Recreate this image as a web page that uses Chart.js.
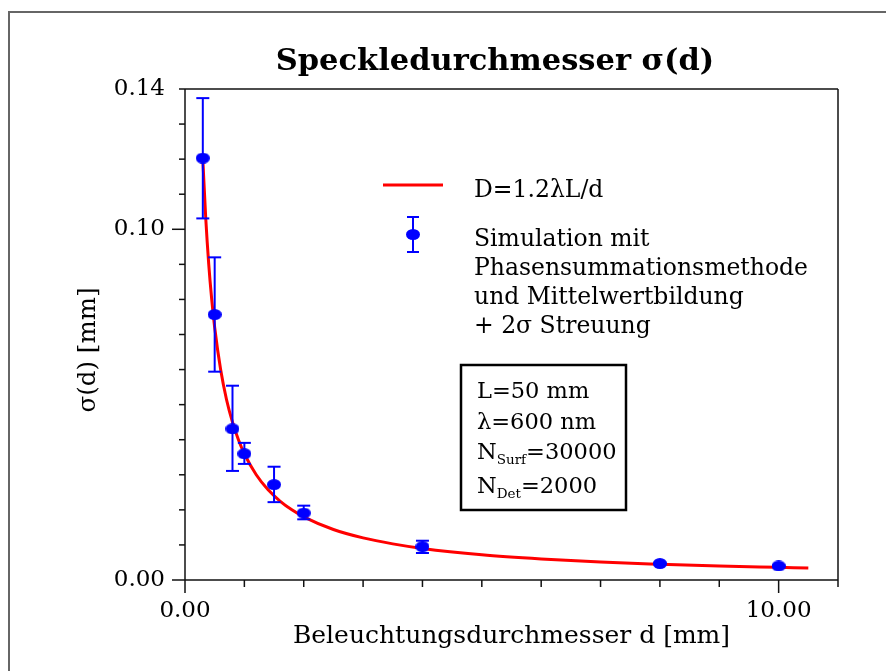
<!DOCTYPE html>
<html>
<head>
<meta charset="utf-8">
<title>Speckledurchmesser</title>
<script src="https://cdn.jsdelivr.net/npm/chart.js@4.4.1/dist/chart.umd.min.js"></script>
<style>
  html, body { margin: 0; padding: 0; background: #fff; }
  #wrap { width: 886px; height: 671px; }
</style>
</head>
<body>
<div id="wrap"><canvas id="chart" width="886" height="671"></canvas></div>
<script>
// simulated speckle diameter (mean and 2-sigma spread) per illumination diameter
const diameters  = [0.3, 0.5, 0.8, 1.0, 1.5, 2.0, 4.0, 8.0, 10.0];
const speckleMean = [0.1203, 0.0757, 0.0431, 0.0360, 0.0272, 0.0191, 0.0095, 0.0047, 0.0040];
const speckleLow  = [0.1031, 0.0594, 0.0311, 0.0331, 0.0222, 0.0173, 0.0077, 0.0045, 0.0038];
const speckleHigh = [0.1374, 0.0920, 0.0554, 0.0391, 0.0323, 0.0212, 0.0112, 0.0049, 0.0042];

// theory curve D = 1.2 lambda L / d
const curveD     = [0.3, 0.35, 0.4, 0.45, 0.5, 0.6, 0.7, 0.8, 0.9, 1.0, 1.2, 1.4, 1.6, 1.8, 2.0, 2.5, 3.0, 3.5, 4.0, 5.0, 6.0, 7.0, 8.0, 9.0, 10.0, 10.5];
const curveSigma = [0.120, 0.103, 0.090, 0.080, 0.072, 0.060, 0.0514, 0.045, 0.040, 0.036, 0.030, 0.0257, 0.0225, 0.020, 0.018, 0.0144, 0.012, 0.0103, 0.009, 0.0072, 0.006, 0.0051, 0.0045, 0.004, 0.0036, 0.0034];

// axis ticks
const xTicks = [0, 1, 2, 3, 4, 5, 6, 7, 8, 9, 10];
const xLabeled = [0, 10];
const yTicks = [0, 0.01, 0.02, 0.03, 0.04, 0.05, 0.06, 0.07, 0.08, 0.09, 0.10, 0.11, 0.12, 0.13, 0.14];
const yLabeled = [0, 0.10, 0.14];
const yLong = [0, 0.10];

// legend / parameter text
const legendCurve = "D=1.2\u03bbL/d";
const legendSim = ["Simulation mit", "Phasensummationsmethode", "und Mittelwertbildung", "+ 2\u03c3 Streuung"];
const paramLines = [["L=50 mm"], ["\u03bb=600 nm"], ["N", "Surf", "=30000"], ["N", "Det", "=2000"]];

const SERIF = "'DejaVu Serif', serif";
const BLUE = "#0000ff";
const RED = "#ff0000";

function hasValue(list, v) {
  return list.some(u => Math.abs(u - v) < 1e-9);
}

// slightly flattened dot used for the simulation points
function ellipseDot(w, h, color) {
  const c = document.createElement("canvas");
  c.width = w; c.height = h;
  const g = c.getContext("2d");
  g.fillStyle = color;
  g.beginPath();
  g.ellipse(w / 2, h / 2, w / 2, h / 2, 0, 0, Math.PI * 2);
  g.fill();
  return c;
}
const dot = ellipseDot(14, 11, BLUE);

function line(ctx, x1, y1, x2, y2) {
  ctx.beginPath();
  ctx.moveTo(x1, y1);
  ctx.lineTo(x2, y2);
  ctx.stroke();
}

// outer frame, plot box and tick marks
const frame = {
  id: "frame",
  beforeDatasetsDraw(chart) {
    const { ctx, chartArea: a, scales: { x, y } } = chart;
    ctx.save();
    ctx.strokeStyle = "#666";
    ctx.lineWidth = 2;
    ctx.beginPath();
    ctx.moveTo(9, 671);
    ctx.lineTo(9, 12);
    ctx.lineTo(886, 12);
    ctx.stroke();

    ctx.strokeStyle = "#111";
    ctx.lineWidth = 1.5;
    line(ctx, a.left, a.top, a.right, a.top);
    line(ctx, a.right, a.top, a.right, a.bottom + 7);
    line(ctx, a.left, a.top, a.left, a.bottom);
    line(ctx, a.left, a.bottom, a.right, a.bottom);

    xTicks.forEach(v => {
      const px = x.getPixelForValue(v);
      line(ctx, px, a.bottom, px, a.bottom + (hasValue(xLabeled, v) ? 13 : 7));
    });
    yTicks.forEach(v => {
      const py = y.getPixelForValue(v);
      line(ctx, a.left, py, a.left - (hasValue(yLong, v) ? 13 : 6), py);
    });
    ctx.restore();
  }
};

// vertical 2-sigma bars with caps
const errorBars = {
  id: "errorBars",
  afterDatasetsDraw(chart) {
    const { ctx, scales: { x, y } } = chart;
    ctx.save();
    ctx.strokeStyle = BLUE;
    ctx.lineWidth = 2;
    diameters.forEach((d, i) => {
      const px = x.getPixelForValue(d);
      const top = y.getPixelForValue(speckleHigh[i]);
      const bot = y.getPixelForValue(speckleLow[i]);
      line(ctx, px, top, px, bot);
      line(ctx, px - 6.5, top, px + 6.5, top);
      line(ctx, px - 6.5, bot, px + 6.5, bot);
    });
    ctx.restore();
  }
};

// title, rotated y label, legend and parameter box
const annotations = {
  id: "annotations",
  afterDraw(chart) {
    const ctx = chart.ctx;
    ctx.save();
    ctx.fillStyle = "#000";
    ctx.textBaseline = "alphabetic";

    ctx.font = "bold 30.5px " + SERIF;
    ctx.textAlign = "center";
    ctx.fillText("Speckledurchmesser \u03c3(d)", 495, 70);

    ctx.save();
    ctx.translate(95, 350);
    ctx.rotate(-Math.PI / 2);
    ctx.font = "24.5px " + SERIF;
    ctx.fillText("\u03c3(d) [mm]", 0, 0);
    ctx.restore();

    // legend
    ctx.textAlign = "left";
    ctx.strokeStyle = RED;
    ctx.lineWidth = 3;
    line(ctx, 383, 185, 443, 185);
    ctx.font = "23.5px " + SERIF;
    ctx.fillText(legendCurve, 474, 197);

    ctx.strokeStyle = BLUE;
    ctx.lineWidth = 2;
    line(ctx, 413, 217, 413, 252);
    line(ctx, 407, 217, 419, 217);
    line(ctx, 407, 252, 419, 252);
    ctx.drawImage(dot, 406, 229);
    legendSim.forEach((t, i) => ctx.fillText(t, 474, 246 + i * 29));

    // parameter box
    ctx.strokeStyle = "#000";
    ctx.lineWidth = 2.5;
    ctx.strokeRect(461, 365, 165, 145);
    const baselines = [398, 429, 459, 493];
    paramLines.forEach((parts, i) => {
      let xx = 477;
      const by = baselines[i];
      ctx.font = "22.5px " + SERIF;
      ctx.fillText(parts[0], xx, by);
      if (parts.length === 1) return;
      xx += ctx.measureText(parts[0]).width;
      ctx.font = "13.5px " + SERIF;
      ctx.fillText(parts[1], xx, by + 5);
      xx += ctx.measureText(parts[1]).width;
      ctx.font = "22.5px " + SERIF;
      ctx.fillText(parts[2], xx, by);
    });
    ctx.restore();
  }
};

new Chart(document.getElementById("chart"), {
  type: "scatter",
  data: {
    datasets: [
      {
        label: "Simulation mit Phasensummationsmethode",
        data: diameters.map((d, i) => ({ x: d, y: speckleMean[i] })),
        pointStyle: dot,
        pointRadius: 7,
        showLine: false
      },
      {
        label: legendCurve,
        data: curveD.map((d, i) => ({ x: d, y: curveSigma[i] })),
        showLine: true,
        borderColor: RED,
        borderWidth: 3,
        pointRadius: 0,
        cubicInterpolationMode: "monotone"
      }
    ]
  },
  options: {
    responsive: false,
    animation: false,
    devicePixelRatio: 1,
    layout: { padding: { left: 9, right: 48, top: 89, bottom: 0 } },
    plugins: {
      legend: { display: false },
      tooltip: { enabled: false },
      title: { display: false }
    },
    scales: {
      x: {
        type: "linear",
        min: 0,
        max: 11,
        afterFit(scale) { scale.height = 91; },
        afterBuildTicks(scale) { scale.ticks = xTicks.map(v => ({ value: v })); },
        grid: { display: false, drawTicks: false },
        border: { display: false },
        ticks: {
          autoSkip: false,
          maxRotation: 0,
          padding: 17,
          color: "#000",
          font: { family: SERIF, size: 23 },
          callback: v => hasValue(xLabeled, v) ? v.toFixed(2) : ""
        },
        title: {
          display: true,
          text: "Beleuchtungsdurchmesser d [mm]",
          color: "#000",
          font: { family: SERIF, size: 25 },
          padding: { top: 0, bottom: 20 }
        }
      },
      y: {
        type: "linear",
        min: 0,
        max: 0.14,
        afterFit(scale) { scale.width = 176; },
        afterBuildTicks(scale) { scale.ticks = yTicks.map(v => ({ value: v })); },
        grid: { display: false, drawTicks: false },
        border: { display: false },
        ticks: {
          autoSkip: false,
          padding: 20,
          color: "#000",
          font: { family: SERIF, size: 23 },
          callback: v => hasValue(yLabeled, v) ? v.toFixed(2) : ""
        }
      }
    }
  },
  plugins: [frame, errorBars, annotations]
});
</script>
</body>
</html>
